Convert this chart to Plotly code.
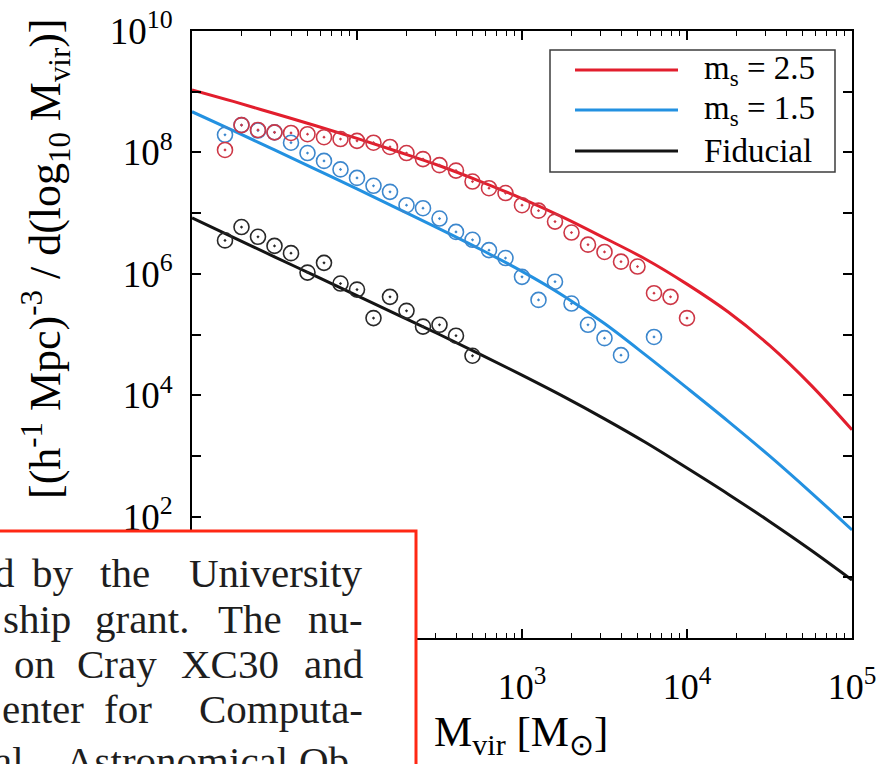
import plotly.graph_objects as go

# ---------------- data (log10 values) ----------------
line_logM = [1.0, 1.25, 1.5, 1.75, 2.0, 2.25, 2.5, 2.75, 3.0, 3.25, 3.5, 3.75, 4.0, 4.25, 4.5, 4.75, 5.0]
red_line_log = [9.03, 8.84, 8.64, 8.44, 8.23, 8.01, 7.78, 7.52, 7.24, 6.93, 6.59, 6.24, 5.83, 5.37, 4.82, 4.17, 3.43]
blue_line_log = [8.67, 8.36, 8.04, 7.72, 7.40, 7.07, 6.74, 6.40, 6.04, 5.64, 5.18, 4.66, 4.12, 3.57, 3.00, 2.40, 1.78]
black_line_log = [6.92, 6.60, 6.28, 5.96, 5.64, 5.32, 5.00, 4.67, 4.33, 3.98, 3.61, 3.22, 2.80, 2.37, 1.92, 1.45, 0.955]

red_pts_logM = [1.2, 1.3, 1.4, 1.5, 1.6, 1.7, 1.8, 1.9, 2.0, 2.1, 2.2, 2.3, 2.4, 2.5, 2.6, 2.7, 2.8, 2.9,
                3.0, 3.1, 3.2, 3.3, 3.4, 3.5, 3.6, 3.7, 3.8, 3.9, 4.0]
red_pts_log = [8.04, 8.45, 8.37, 8.33, 8.32, 8.30, 8.25, 8.22, 8.19, 8.16, 8.09, 7.99, 7.89, 7.79, 7.70, 7.52, 7.41, 7.33,
               7.13, 7.04, 6.86, 6.68, 6.48, 6.36, 6.20, 6.12, 5.68, 5.62, 5.27]

blue_pts_logM = [1.2, 1.3, 1.4, 1.5, 1.6, 1.7, 1.8, 1.9, 2.0, 2.1, 2.2, 2.3, 2.4, 2.5, 2.6, 2.7, 2.8, 2.9,
                 3.0, 3.1, 3.2, 3.3, 3.4, 3.5, 3.6, 3.8]
blue_pts_log = [8.29, 8.45, 8.36, 8.33, 8.16, 7.99, 7.86, 7.72, 7.58, 7.45, 7.35, 7.13, 7.08, 6.91, 6.69, 6.56, 6.39, 6.26,
                5.95, 5.57, 5.87, 5.51, 5.16, 4.94, 4.66, 4.96]

black_pts_logM = [1.2, 1.3, 1.4, 1.5, 1.6, 1.7, 1.8, 1.9, 2.0, 2.1, 2.2, 2.3, 2.4, 2.5, 2.6, 2.7]
black_pts_log = [6.55, 6.77, 6.61, 6.46, 6.34, 6.02, 6.18, 5.84, 5.74, 5.27, 5.62, 5.39, 5.13, 5.16, 4.98, 4.65]

x_tick_vals = [1e1, 1e2, 1e3, 1e4, 1e5]
x_tick_text = ["10<sup>1</sup>", "10<sup>2</sup>", "10<sup>3</sup>", "10<sup>4</sup>", "10<sup>5</sup>"]
y_tick_vals = [1e0, 1e2, 1e4, 1e6, 1e8, 1e10]
y_tick_text = ["10<sup>0</sup>", "10<sup>2</sup>", "10<sup>4</sup>", "10<sup>6</sup>", "10<sup>8</sup>", "10<sup>10</sup>"]

legend_labels = ["m<sub>s</sub> = 2.5", "m<sub>s</sub> = 1.5", "Fiducial"]

RED = "rgb(226,30,45)"
BLUE = "rgb(35,145,225)"
BLACK = "rgb(20,20,20)"
RED_M = "rgb(205,55,70)"
BLUE_M = "rgb(60,135,205)"
BLACK_M = "rgb(40,40,40)"
SERIF = "Liberation Serif, Times New Roman, serif"

def p10(v):
    return [10 ** a for a in v]

fig = go.Figure()
for xs, ys, col in [(line_logM, red_line_log, RED), (line_logM, blue_line_log, BLUE), (line_logM, black_line_log, BLACK)]:
    fig.add_trace(go.Scatter(x=p10(xs), y=p10(ys), mode="lines",
                             line=dict(color=col, width=3, shape="spline", simplify=False),
                             showlegend=False, hoverinfo="skip"))
for xs, ys, col in [(black_pts_logM, black_pts_log, BLACK_M), (blue_pts_logM, blue_pts_log, BLUE_M),
                    (red_pts_logM, red_pts_log, RED_M)]:
    fig.add_trace(go.Scatter(x=p10(xs), y=p10(ys), mode="markers",
                             marker=dict(symbol="circle-open-dot", size=15, color=col, line=dict(width=1.6, color=col)),
                             showlegend=False, hoverinfo="skip"))

# ---- layout geometry (pixels) ----
W, H = 883, 764
L, R, T, B = 192, 852, 31, 638

def px(xp):
    return (xp - L) / (R - L)

def py(yp):
    return (B - yp) / (B - T)

minor_x = [m * 10 ** k for k in range(1, 5) for m in range(2, 10)]
minor_y = [10 ** k for k in (1, 3, 5, 7, 9)]

fig.update_layout(
    width=W, height=H, autosize=False,
    margin=dict(l=L, r=W - R, t=T, b=H - B, pad=0, autoexpand=False),
    paper_bgcolor="white", plot_bgcolor="white",
    font=dict(family=SERIF, color="black", size=34),
    showlegend=False,
    xaxis=dict(type="log", range=[1, 5], tickmode="array", tickvals=x_tick_vals, ticktext=x_tick_text,
               ticks="inside", ticklen=9, tickwidth=1.5, tickcolor="black", mirror="ticks", automargin=False,
               showline=True, linecolor="black", linewidth=2, showgrid=False, zeroline=False,
               tickfont=dict(family=SERIF, size=36), ticklabelstandoff=16,
               minor=dict(tickmode="array", tickvals=minor_x, ticks="inside", ticklen=5, tickwidth=1.2,
                          tickcolor="black", showgrid=False)),
    yaxis=dict(type="log", range=[0, 10], tickmode="array", tickvals=y_tick_vals, ticktext=y_tick_text,
               ticks="inside", ticklen=9, tickwidth=1.5, tickcolor="black", mirror="ticks", automargin=False,
               showline=True, linecolor="black", linewidth=2, showgrid=False, zeroline=False,
               tickfont=dict(family=SERIF, size=37), ticklabelstandoff=10,
               minor=dict(tickmode="array", tickvals=minor_y, ticks="inside", ticklen=9, tickwidth=1.5,
                          tickcolor="black", showgrid=False)),
)

shapes = []
annotations = []

# legend (drawn manually to get the long line samples)
shapes.append(dict(type="rect", xref="paper", yref="paper", x0=px(550), x1=px(835), y0=py(172), y1=py(50),
                   line=dict(color="rgb(60,60,60)", width=1.5), fillcolor="white", layer="above"))
for lab, col, yy in zip(legend_labels, [RED, BLUE, BLACK], [70, 110, 151]):
    shapes.append(dict(type="line", xref="paper", yref="paper", x0=px(575), x1=px(678), y0=py(yy), y1=py(yy),
                       line=dict(color=col, width=3), layer="above"))
    annotations.append(dict(text=lab, xref="paper", yref="paper", x=px(702), y=py(yy), xanchor="left",
                            yanchor="middle", showarrow=False, font=dict(family=SERIF, size=33, color="black")))

# axis titles
annotations.append(dict(text="[(h<sup>-1</sup> Mpc)<sup>-3</sup> / d(log<sub>10</sub> M<sub>vir</sub>)]",
                        xref="paper", yref="paper", x=px(46), y=py(259), xanchor="center", yanchor="middle",
                        textangle=-90, showarrow=False, font=dict(family=SERIF, size=44, color="black")))
annotations.append(dict(text="M<sub>vir</sub> [M<sub>\u2299</sub>]", xref="paper", yref="paper", x=px(432), y=py(735),
                        xanchor="left", yanchor="middle", showarrow=False,
                        font=dict(family=SERIF, size=43, color="black")))

# overlaid red-framed text box covering the lower-left corner
shapes.append(dict(type="rect", xref="paper", yref="paper", x0=px(-10), x1=px(416), y0=py(780), y1=py(531),
                   line=dict(color="rgb(255,40,20)", width=3), fillcolor="white", layer="above"))
# (word, anchor, x) : words placed individually to reproduce the justified lines
box_lines = [
    (573, [("d", "left", -8), ("by", "center", 53), ("the", "center", 125), ("University", "right", 365)]),
    (619, [("ship", "left", 1), ("grant.", "center", 142), ("The", "center", 250), ("nu-", "right", 365)]),
    (664, [("on", "left", 12), ("Cray", "center", 117), ("XC30", "center", 230), ("and", "right", 365)]),
    (709, [("enter", "left", 0), ("for", "center", 128), ("Computa-", "right", 365)]),
    (761, [("al", "left", -8), ("Astronomical", "center", 176), ("Ob-", "right", 365)]),
]
for yy, words in box_lines:
    for w, anc, xx in words:
        annotations.append(dict(text=w, xref="paper", yref="paper", x=px(xx), y=py(yy), xanchor=anc,
                                yanchor="middle", showarrow=False,
                                font=dict(family=SERIF, size=41, color="rgb(30,30,30)")))

fig.update_layout(shapes=shapes, annotations=annotations)
fig.write_html("out.html", config={"displayModeBar": False},
               post_script="document.body.style.margin='0';")
